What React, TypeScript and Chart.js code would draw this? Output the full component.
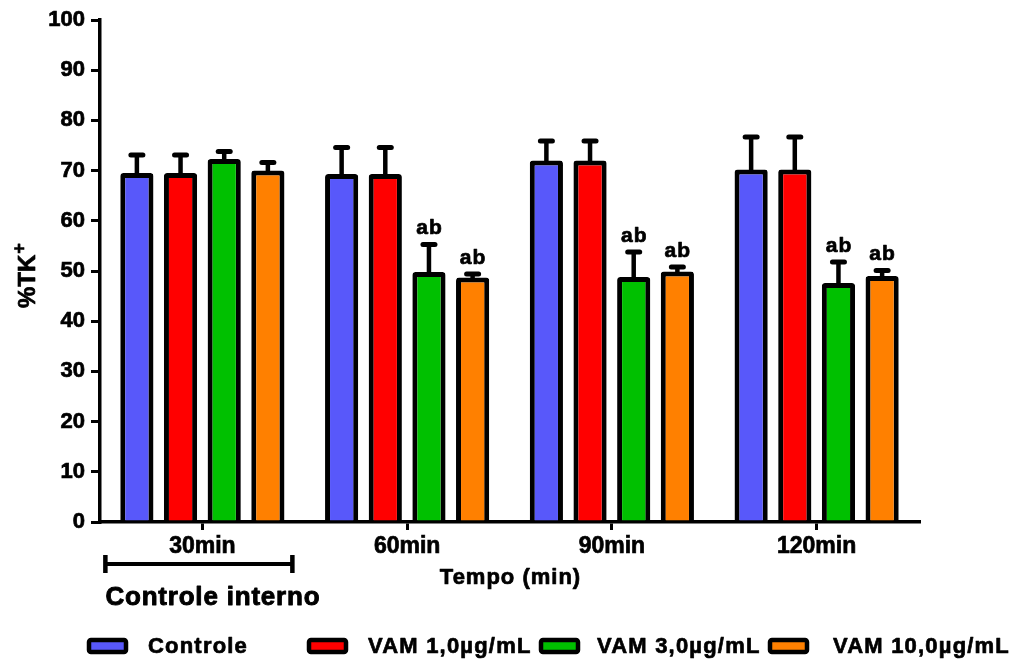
import { useEffect, useRef } from 'react';
import { Chart, registerables } from 'chart.js';

Chart.register(...registerables);

const categories = ['30min', '60min', '90min', '120min'];
const seriesLabels = ['Controle', 'VAM 1,0\u00b5g/mL', 'VAM 3,0\u00b5g/mL', 'VAM 10,0\u00b5g/mL'];
const seriesColors = ['#5858FA', '#FF0000', '#00C000', '#FF8000'];
const xTitle = 'Tempo (min)';
const yTitle = '%TK';
const yTitleSup = '+';
const bracketLabel = 'Controle interno';

const controle = [69.5, 69.3, 72.0, 70.2];
const controleSem = [3.6, 5.3, 3.9, 6.5];
const vam1 = [69.5, 69.3, 72.0, 70.2];
const vam1Sem = [3.6, 5.3, 3.9, 6.5];
const vam3 = [72.3, 49.8, 48.8, 47.6];
const vam3Sem = [1.5, 5.5, 5.0, 4.2];
const vam10 = [70.0, 48.7, 49.9, 49.0];
const vam10Sem = [1.6, 0.7, 0.9, 1.1];

const controleSig = ['', '', '', ''];
const vam1Sig = ['', '', '', ''];
const vam3Sig = ['', 'ab', 'ab', 'ab'];
const vam10Sig = ['', 'ab', 'ab', 'ab'];

const yTicks = [0, 10, 20, 30, 40, 50, 60, 70, 80, 90, 100];

const seriesValues = [controle, vam1, vam3, vam10];
const seriesSems = [controleSem, vam1Sem, vam3Sem, vam10Sem];
const seriesSigs = [controleSig, vam1Sig, vam3Sig, vam10Sig];

const FONT = '"Liberation Sans", Arial, sans-serif';

function heavyText(ctx: CanvasRenderingContext2D, t: string, x: number, y: number, sw = 0.7) {
  ctx.lineWidth = sw;
  ctx.strokeStyle = '#000';
  ctx.lineJoin = 'round';
  ctx.strokeText(t, x, y);
  ctx.fillText(t, x, y);
}

const errorBarPlugin = {
  id: 'errorBars',
  afterDatasetsDraw(chart: any) {
    const ctx = chart.ctx as CanvasRenderingContext2D;
    const yScale = chart.scales.y;
    chart.data.datasets.forEach((ds: any, i: number) => {
      const meta = chart.getDatasetMeta(i);
      meta.data.forEach((bar: any, j: number) => {
        const v = seriesValues[i][j];
        const e = seriesSems[i][j];
        const x = bar.x;
        const yBase = yScale.getPixelForValue(v);
        const yTop = yScale.getPixelForValue(v + e);
        ctx.save();
        ctx.strokeStyle = '#000';
        ctx.lineWidth = 4.5;
        ctx.lineCap = 'butt';
        ctx.beginPath();
        ctx.moveTo(x, yBase + 2);
        ctx.lineTo(x, yTop);
        ctx.stroke();
        ctx.lineWidth = 5;
        ctx.lineCap = 'round';
        ctx.beginPath();
        ctx.moveTo(x - 6, yTop);
        ctx.lineTo(x + 6, yTop);
        ctx.stroke();
        const sig = seriesSigs[i][j];
        if (sig) {
          (ctx as any).letterSpacing = '1px';
          ctx.font = `bold 21px ${FONT}`;
          ctx.fillStyle = '#000';
          ctx.textAlign = 'center';
          ctx.textBaseline = 'alphabetic';
          heavyText(ctx, sig, x + 0.5, yTop - 10);
        }
        ctx.restore();
      });
    });
  },
};

const decorPlugin = {
  id: 'decor',
  afterDraw(chart: any) {
    const ctx = chart.ctx as CanvasRenderingContext2D;
    const xScale = chart.scales.x;
    const area = chart.chartArea;
    // Y axis title
    ctx.save();
    ctx.fillStyle = '#000';
    ctx.translate(35, 308);
    ctx.rotate(-Math.PI / 2);
    ctx.font = `bold 24px ${FONT}`;
    ctx.textAlign = 'left';
    ctx.textBaseline = 'alphabetic';
    heavyText(ctx, yTitle, 0, 0);
    const w = ctx.measureText(yTitle).width;
    ctx.font = `bold 18px ${FONT}`;
    heavyText(ctx, yTitleSup, w + 1, -10);
    ctx.restore();

    // X axis title
    ctx.save();
    (ctx as any).letterSpacing = '1px';
    ctx.font = `bold 22px ${FONT}`;
    ctx.fillStyle = '#000';
    ctx.textAlign = 'left';
    ctx.textBaseline = 'middle';
    const tw = ctx.measureText(xTitle).width;
    heavyText(ctx, xTitle, (area.left + area.right) / 2 - tw / 2 + 1, 578);
    ctx.restore();

    // Controle interno bracket
    const c0 = xScale.getPixelForValue(0);
    const bl = c0 - 97;
    const br = c0 + 90;
    ctx.save();
    ctx.strokeStyle = '#000';
    ctx.lineWidth = 4;
    ctx.beginPath();
    ctx.moveTo(bl, 564);
    ctx.lineTo(br, 564);
    ctx.stroke();
    ctx.lineWidth = 4.5;
    ctx.beginPath();
    ctx.moveTo(bl, 555);
    ctx.lineTo(bl, 573);
    ctx.moveTo(br, 555);
    ctx.lineTo(br, 573);
    ctx.stroke();
    (ctx as any).letterSpacing = '0.8px';
    ctx.font = `bold 26px ${FONT}`;
    ctx.fillStyle = '#000';
    ctx.textAlign = 'left';
    ctx.textBaseline = 'middle';
    heavyText(ctx, bracketLabel, bl, 598, 0.9);
    ctx.restore();

    // Legend
    const boxX = [87, 307, 539, 768];
    const textX = [148, 368, 597, 833];
    ctx.save();
    seriesLabels.forEach((lab, i) => {
      ctx.fillStyle = seriesColors[i];
      ctx.strokeStyle = '#000';
      ctx.lineWidth = 4.5;
      ctx.beginPath();
      (ctx as any).roundRect(boxX[i] + 2, 640, 37, 12, 2);
      ctx.fill();
      ctx.stroke();
      (ctx as any).letterSpacing = '1.2px';
      ctx.font = `bold 22px ${FONT}`;
      ctx.fillStyle = '#000';
      ctx.textAlign = 'left';
      ctx.textBaseline = 'middle';
      heavyText(ctx, lab, textX[i], 647);
    });
    ctx.restore();
  },
};

export default function App() {
  const ref = useRef<HTMLCanvasElement | null>(null);
  useEffect(() => {
    if (!ref.current) return;
    const chart = new Chart(ref.current, {
      type: 'bar',
      data: {
        labels: categories,
        datasets: seriesLabels.map((lab, i) => ({
          label: lab,
          data: seriesValues[i],
          backgroundColor: seriesColors[i],
          borderColor: '#000',
          borderWidth: 5,
          borderRadius: 3,
          borderSkipped: 'start',
          categoryPercentage: 0.853,
          barPercentage: 0.76,
        })),
      },
      options: {
        animation: false,
        responsive: false,
        devicePixelRatio: 1,
        layout: { padding: { left: 0, right: 97, top: 20, bottom: 0 } },
        plugins: {
          legend: { display: false },
          tooltip: { enabled: false },
        },
        scales: {
          x: {
            type: 'category',
            offset: true,
            afterFit: (s: any) => {
              s.height = 140;
            },
            border: { display: true, color: '#000', width: 3.5 },
            grid: {
              offset: false,
              drawOnChartArea: false,
              drawTicks: true,
              tickLength: 8,
              tickWidth: 3,
              tickColor: '#000',
              color: '#000',
              lineWidth: 3,
            },
            ticks: {
              color: '#000',
              padding: 3,
              textStrokeColor: '#000',
              textStrokeWidth: 0.7,
              font: { family: FONT, size: 23, weight: 'bold' },
            },
            title: { display: false },
          },
          y: {
            min: 0,
            max: 100,
            afterFit: (s: any) => {
              s.width = 100;
            },
            afterBuildTicks: (s: any) => {
              s.ticks = yTicks.map((v) => ({ value: v }));
            },
            border: { display: true, color: '#000', width: 3.5 },
            grid: {
              drawOnChartArea: false,
              drawTicks: true,
              tickLength: 9,
              tickWidth: 3,
              tickColor: '#000',
              color: '#000',
              lineWidth: 3,
            },
            ticks: {
              color: '#000',
              padding: 6,
              textStrokeColor: '#000',
              textStrokeWidth: 0.7,
              font: { family: FONT, size: 22, weight: 'bold' },
            },
          },
        },
      },
      plugins: [errorBarPlugin, decorPlugin],
    } as any);
    return () => chart.destroy();
  }, []);
  return (
    <div style={{ position: 'fixed', left: 0, top: 0, width: 1016, height: 662, background: '#fff' }}>
      <canvas ref={ref} width={1016} height={662} style={{ display: 'block' }} />
    </div>
  );
}
